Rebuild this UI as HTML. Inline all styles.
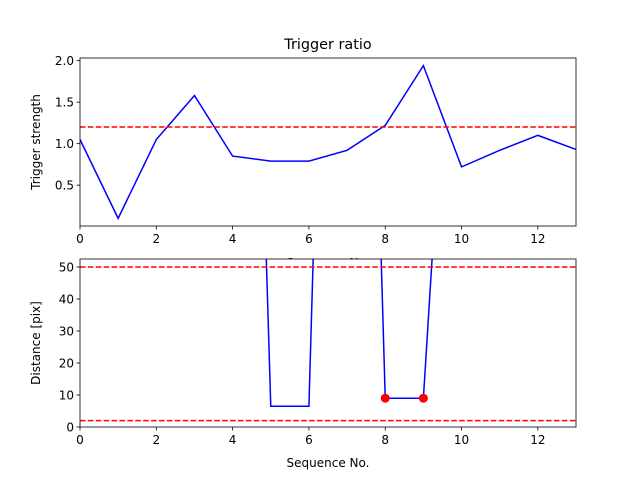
<!DOCTYPE html>
<html><head><meta charset="utf-8"><style>
body{margin:0;background:#fff;}
svg{display:block;font-family:"DejaVu Sans","Liberation Sans",sans-serif;}
</style></head><body>
<svg id="c" width="640" height="480" xmlns="http://www.w3.org/2000/svg"></svg>
<script>
const seqNo=[0,1,2,3,4,5,6,7,8,9,10,11,12,13];
const triggerStrength=[1.05,0.1,1.05,1.58,0.85,0.79,0.79,0.92,1.22,1.94,0.72,0.92,1.10,0.93];
const triggerThreshold=1.2;
const distance=[400,400,400,400,400,6.5,6.5,420,9,9,200,400,400,400];
const distMarkersX=[8,9];
const distMarkersY=[9,9];
const distLimits=[50,2];
const xTicks=[0,2,4,6,8,10,12];
const topYTicks=[0.5,1.0,1.5,2.0];
const botYTicks=[0,10,20,30,40,50];
const NS="http://www.w3.org/2000/svg";
const svg=document.getElementById('c');
function mk(t,a,p){const e=document.createElementNS(NS,t);for(const k in a)e.setAttribute(k,a[k]);(p||svg).appendChild(e);return e;}
function panel(name,top,bot,ymin,ymax,yt,fmt,ylab){
  const L=80,R=576,xs=v=>L+(v-0)/13*(R-L),ys=v=>bot-(v-ymin)/(ymax-ymin)*(bot-top);
  const g=mk('g',{});
  const cid='clip'+name;const cp=mk('clipPath',{id:cid},g);mk('rect',{x:L,y:top,width:R-L,height:bot-top},cp);
  const plot=mk('g',{'clip-path':'url(#'+cid+')'},g);
  xTicks.forEach(v=>{mk('line',{x1:xs(v),x2:xs(v),y1:bot,y2:bot+3.5,stroke:'#000','stroke-width':0.8},g);
    const t=mk('text',{x:xs(v),y:bot+17,'font-size':12,'text-anchor':'middle'},g);t.textContent=v;
    });
  yt.forEach(v=>{mk('line',{x1:L-3.5,x2:L,y1:ys(v),y2:ys(v),stroke:'#000','stroke-width':0.8},g);
    const t=mk('text',{x:L-6,y:ys(v)+4.5,'font-size':12,'text-anchor':'end'},g);t.textContent=fmt(v);
    });
  const yl=mk('text',{x:0,y:0,'font-size':12,'text-anchor':'middle',transform:`translate(40,${(top+bot)/2}) rotate(-90)`},g);
  yl.textContent=ylab;
  return {g,plot,xs,ys,L,R,top,bot};
}
const p1=panel('top-panel',58,226,0.008,2.032,topYTicks,v=>v.toFixed(1),'Trigger strength');
const xl1=mk('text',{x:328,y:267,'font-size':12,'text-anchor':'middle'},p1.g);xl1.textContent='Sequence No.';

const p2=panel('bottom-panel',259,427,0,52.5,botYTicks,v=>v,'Distance [pix]');
// white cover for overlap
mk('rect',{x:80,y:259,width:496,height:168,fill:'#fff'},p2.g);
p2.g.insertBefore(p2.g.lastChild,p2.g.firstChild.nextSibling);
const xl2=mk('text',{x:328,y:467,'font-size':12,'text-anchor':'middle'},p2.g);xl2.textContent='Sequence No.';

const title=mk('text',{x:328,y:49,'font-size':14.4,'text-anchor':'middle'});title.textContent='Trigger ratio';

// top series
let l1=mk('polyline',{points:seqNo.map((x,i)=>p1.xs(x)+','+p1.ys(triggerStrength[i])).join(' '),fill:'none',stroke:'#0000ff','stroke-width':1.5},p1.plot);

let th=mk('line',{x1:p1.L,x2:p1.R,y1:p1.ys(triggerThreshold),y2:p1.ys(triggerThreshold),stroke:'#ff0000','stroke-width':1.5,'stroke-dasharray':'5.5,2.4'},p1.plot);

// bottom series
let l2=mk('polyline',{points:seqNo.map((x,i)=>p2.xs(x)+','+p2.ys(distance[i])).join(' '),fill:'none',stroke:'#0000ff','stroke-width':1.5},p2.plot);

distLimits.forEach(v=>{const l=mk('line',{x1:p2.L,x2:p2.R,y1:p2.ys(v),y2:p2.ys(v),stroke:'#ff0000','stroke-width':1.5,'stroke-dasharray':'5.5,2.4'},p2.plot);
  });
distMarkersX.forEach((x,i)=>{const c=mk('circle',{cx:p2.xs(x),cy:p2.ys(distMarkersY[i]),r:4.5,fill:'#ff0000'},p2.g);
  });
[p1,p2].forEach(p=>mk('rect',{x:p.L,y:p.top,width:p.R-p.L,height:p.bot-p.top,fill:'none',stroke:'#000','stroke-width':0.8},p.g));
</script>
</body></html>
